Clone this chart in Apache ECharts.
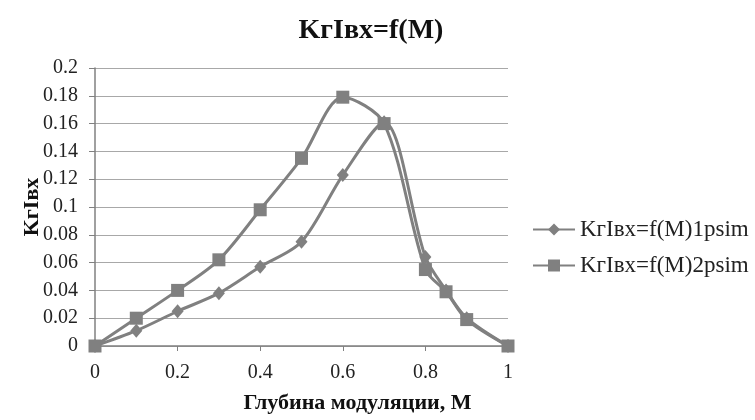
<!DOCTYPE html>
<html>
<head>
<meta charset="utf-8">
<script src="https://cdn.jsdelivr.net/npm/echarts@6/dist/echarts.min.js"></script>
<style>
  html, body { margin: 0; padding: 0; background: #fff; }
  #chart { width: 755px; height: 420px; }
</style>
</head>
<body>
<div id="chart"></div>
<script>
// Modulation depth M (x) and harmonic coefficient values for two runs
const depthM = [0, 0.1, 0.2, 0.3, 0.4, 0.5, 0.6, 0.7, 0.8, 0.85, 0.9, 1];
const kgIvx1 = [0, 0.011, 0.025, 0.038, 0.057, 0.075, 0.123, 0.161, 0.064, 0.04, 0.02, 0];
const kgIvx2 = [0, 0.02, 0.04, 0.062, 0.098, 0.135, 0.179, 0.16, 0.055, 0.039, 0.019, 0];
const seriesNames = ['KгIвх=f(M)1psim', 'KгIвх=f(M)2psim'];

const serif = 'Liberation Serif, Times New Roman, serif';
const gray = '#808080';

const chart = echarts.init(document.getElementById('chart'), null, { renderer: 'canvas' });

const toPairs = (xs, ys) => xs.map((x, i) => [x, ys[i]]);
const fmt = v => String(+v.toFixed(2));

chart.setOption({
  animation: false,
  backgroundColor: '#fff',
  title: {
    text: 'KгIвх=f(M)',
    left: 366,
    top: 12,
    textAlign: 'center',
    textStyle: { fontFamily: serif, fontWeight: 'bold', fontSize: 28, color: '#111' }
  },
  legend: {
    orient: 'vertical',
    left: 532,
    top: 218,
    padding: 0,
    itemWidth: 42,
    itemHeight: 15,
    itemGap: 13,
    textStyle: { fontFamily: serif, fontSize: 23, color: '#222' },
    data: seriesNames
  },
  grid: { left: 95, right: 247, top: 68, bottom: 74, containLabel: false },
  xAxis: {
    type: 'value',
    min: 0, max: 1, interval: 0.2,
    name: 'Глубина модуляции, М',
    nameLocation: 'middle',
    nameGap: 46,
    nameMoveOverlap: false,
    nameTextStyle: { fontFamily: serif, fontWeight: 'bold', fontSize: 22, color: '#111',
                     padding: [0, 0, 0, 112] },
    axisLine: { show: true, lineStyle: { color: gray, width: 1.5 } },
    axisTick: { show: true, length: 5, lineStyle: { color: gray } },
    axisLabel: { fontFamily: serif, fontSize: 20, color: '#222', margin: 17, formatter: fmt },
    splitLine: { show: false }
  },
  yAxis: {
    type: 'value',
    min: 0, max: 0.2, interval: 0.02,
    name: 'KгIвх',
    nameLocation: 'middle',
    nameGap: 52,
    nameRotate: 90,
    nameMoveOverlap: false,
    nameTextStyle: { fontFamily: serif, fontWeight: 'bold', fontSize: 22, color: '#111' },
    axisLine: { show: true, lineStyle: { color: gray, width: 1.5 } },
    axisTick: { show: true, length: 6, lineStyle: { color: gray } },
    axisLabel: { fontFamily: serif, fontSize: 20, color: '#222', margin: 17, formatter: fmt },
    splitLine: { show: true, lineStyle: { color: '#a8a8a8', width: 1.2 } }
  },
  series: [
    {
      name: seriesNames[0],
      type: 'line',
      data: toPairs(depthM, kgIvx1),
      smooth: 0.3,
      symbol: 'diamond',
      symbolSize: [12, 14],
      lineStyle: { color: gray, width: 3 },
      itemStyle: { color: gray },
      z: 3
    },
    {
      name: seriesNames[1],
      type: 'line',
      data: toPairs(depthM, kgIvx2),
      smooth: 0.3,
      symbol: 'rect',
      symbolSize: 13,
      lineStyle: { color: gray, width: 3 },
      itemStyle: { color: gray },
      z: 4
    }
  ]
});
</script>
</body>
</html>
